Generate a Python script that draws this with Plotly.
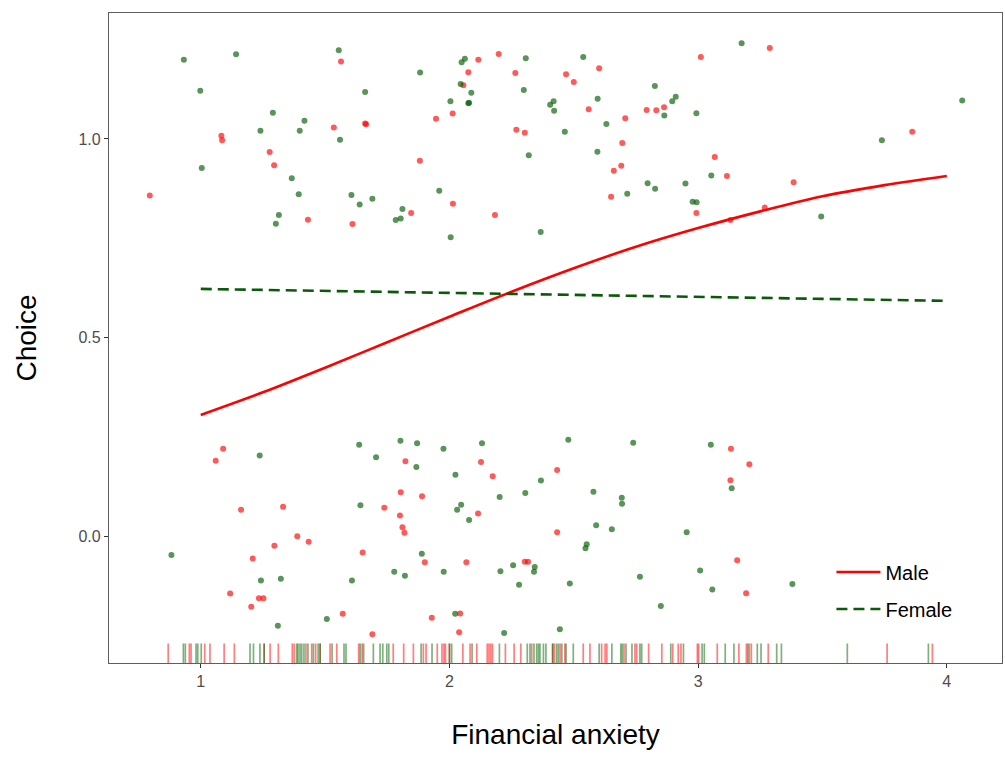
import plotly.graph_objects as go

# ---------------- data ----------------
# jittered points, Male (red)
male_x = [0.795, 1.083, 1.086, 1.277, 1.295, 1.564, 1.535, 1.661, 1.665, 1.431, 1.610, 1.846,
          1.881, 1.946, 2.013, 2.014, 2.056, 2.076, 2.116, 2.198, 2.265, 2.183, 2.269, 2.303,
          3.011, 3.288, 2.469, 2.500, 2.602, 2.560, 2.707, 2.793, 2.832, 2.863, 2.695, 3.067,
          2.691, 2.661, 3.116, 3.384, 2.650, 2.993, 3.268, 3.130, 3.861,
          1.090, 1.060, 1.162, 1.331, 1.388, 1.434, 1.296, 1.209, 1.118, 1.234, 1.252, 1.203,
          1.651, 1.823, 1.804, 1.890, 1.738, 1.801, 1.811, 1.819, 1.901, 2.068, 2.127, 2.174,
          2.115, 2.303, 2.316, 1.571, 1.690, 1.929, 2.043, 2.039, 2.433, 3.132, 3.206, 3.130,
          2.433, 3.157, 3.193]
male_y = [0.858, 1.008, 0.997, 0.967, 0.934, 1.195, 1.029, 1.039, 1.037, 0.797, 0.786, 0.814,
          0.945, 1.051, 1.064, 0.837, 1.135, 1.168, 1.199, 1.214, 1.166, 0.809, 1.023, 1.016,
          1.206, 1.229, 1.163, 1.143, 1.178, 1.075, 1.052, 1.073, 1.072, 1.080, 0.990, 0.955,
          0.933, 0.920, 0.907, 0.891, 0.855, 0.814, 0.828, 0.796, 1.018,
          0.221, 0.191, 0.068, 0.075, 0.001, -0.013, -0.023, -0.055, -0.143, -0.155, -0.155, -0.176,
          -0.040, 0.190, 0.112, 0.102, 0.073, 0.053, 0.024, 0.010, -0.064, -0.064, 0.188, 0.152,
          0.058, -0.063, -0.063, -0.194, -0.245, -0.204, -0.193, -0.240, 0.168, 0.221, 0.182, 0.142,
          0.011, -0.059, -0.142]

# jittered points, Female (green)
female_x = [0.932, 1.142, 0.998, 1.290, 1.240, 1.417, 1.398, 1.555, 1.560, 1.661, 1.004, 1.366,
            1.394, 1.314, 1.302, 1.606, 1.639, 1.690, 1.811, 1.804, 1.784, 1.882, 1.959, 2.004,
            2.005, 2.045, 2.049, 2.062, 2.088, 2.079, 2.076, 2.307, 2.299, 2.319, 2.367, 2.405,
            3.175, 2.538, 2.826, 2.596, 2.419, 2.421, 2.910, 2.896, 2.864, 2.993, 2.464, 2.631,
            2.595, 4.062, 3.739, 3.053, 2.949, 2.797, 2.827, 2.715, 2.978, 2.994, 3.495,
            0.882, 1.237, 1.242, 1.322, 1.310, 1.637, 1.705, 1.803, 1.870, 1.867, 1.976, 2.024,
            2.131, 1.642, 2.047, 2.031, 2.079, 2.202, 2.305, 2.368, 1.889, 1.778, 1.821, 1.977,
            2.205, 2.256, 2.343, 2.340, 2.280, 1.608, 1.507, 2.023, 2.220, 2.478, 2.739, 3.051,
            2.579, 2.693, 2.694, 2.590, 2.653, 2.954, 2.552, 2.547, 3.135, 3.008, 2.484, 2.766,
            3.057, 3.379, 2.850, 2.444]
female_y = [1.199, 1.213, 1.121, 1.066, 1.021, 1.046, 1.021, 1.223, 0.998, 1.118, 0.927, 0.901,
            0.861, 0.809, 0.787, 0.859, 0.835, 0.850, 0.824, 0.800, 0.796, 1.167, 0.870, 1.095,
            0.753, 1.138, 1.193, 1.202, 1.116, 1.091, 1.090, 1.203, 1.123, 0.959, 0.766, 1.086,
            1.241, 1.206, 1.133, 1.101, 1.095, 1.071, 1.106, 1.095, 1.059, 1.065, 1.018, 1.038,
            0.968, 1.097, 0.997, 0.908, 0.888, 0.889, 0.875, 0.862, 0.842, 0.841, 0.805,
            -0.046, 0.204, -0.110, -0.106, -0.224, 0.231, 0.200, 0.241, 0.235, 0.175, 0.221, 0.156,
            0.235, 0.079, 0.080, 0.068, 0.042, 0.100, 0.110, 0.141, -0.043, -0.088, -0.098, -0.088,
            -0.087, -0.072, -0.076, -0.088, -0.121, -0.110, -0.207, -0.194, -0.242, 0.244, 0.236, 0.231,
            0.113, 0.098, 0.083, 0.029, 0.019, 0.011, -0.019, -0.029, 0.122, -0.085, -0.118, -0.101,
            -0.133, -0.119, -0.174, -0.233]

# rug (raw financial anxiety values)
male_rug = [0.869, 0.954, 0.961, 1.016, 1.037, 1.094, 1.135, 1.255, 1.279, 1.312, 1.368, 1.376,
            1.423, 1.446, 1.462, 1.480, 1.520, 1.547, 1.635, 1.649, 1.774, 1.816, 1.855, 1.895,
            1.906, 1.951, 1.970, 1.978, 1.984, 2.000, 2.054, 2.083, 2.110, 2.152, 2.159, 2.166,
            2.173, 2.225, 2.260, 2.287, 2.331, 2.415, 2.422, 2.445, 2.464, 2.538, 2.565, 2.612,
            2.626, 2.633, 2.702, 2.746, 2.753, 2.801, 2.854, 2.898, 2.920, 2.931, 2.997, 3.002,
            3.077, 3.164, 3.194, 3.206, 3.214, 3.282, 3.760, 3.942]
female_rug = [0.930, 0.938, 0.981, 0.988, 1.002, 1.198, 1.212, 1.238, 1.255, 1.386, 1.391, 1.399,
              1.406, 1.415, 1.431, 1.453, 1.472, 1.480, 1.528, 1.576, 1.584, 1.641, 1.655, 1.694,
              1.721, 1.732, 1.748, 1.756, 1.886, 1.930, 2.000, 2.009, 2.091, 2.201, 2.313, 2.324,
              2.340, 2.351, 2.358, 2.364, 2.378, 2.388, 2.415, 2.431, 2.438, 2.452, 2.469, 2.498,
              2.602, 2.653, 2.689, 2.695, 2.710, 2.734, 2.766, 2.773, 2.890, 2.941, 3.016, 3.025,
              3.109, 3.144, 3.200, 3.238, 3.253, 3.316, 3.335, 3.600, 3.926]

# fitted curves
curve_x_male = [1.00, 1.25, 1.50, 1.75, 2.00, 2.25, 2.50, 2.75, 3.00, 3.25, 3.50, 3.75, 4.00]
curve_y_male = [0.306, 0.363, 0.425, 0.489, 0.553, 0.616, 0.675, 0.729, 0.776, 0.818, 0.856, 0.884, 0.907]
curve_x_female = [1.0, 2.0, 3.0, 4.0]
curve_y_female = [0.623, 0.613, 0.603, 0.593]

x_ticks = [1, 2, 3, 4]
y_ticks = [0.0, 0.5, 1.0]
y_tick_labels = ["0.0", "0.5", "1.0"]

RUG_LEN = 0.03  # fraction of panel height

# ---------------- figure ----------------
FONT = "Liberation Sans, Arial, Helvetica, sans-serif"
fig = go.Figure()

fig.add_trace(go.Scatter(x=male_x, y=male_y, mode="markers", showlegend=False,
                         marker=dict(color="red", size=6, opacity=0.65), hoverinfo="skip"))
fig.add_trace(go.Scatter(x=female_x, y=female_y, mode="markers", showlegend=False,
                         marker=dict(color="#005a00", size=6, opacity=0.65), hoverinfo="skip"))


def rug_xy(vals):
    xs, ys = [], []
    for v in vals:
        xs += [v, v, None]
        ys += [0, RUG_LEN, None]
    return xs, ys


rx, ry = rug_xy(male_rug)
fig.add_trace(go.Scatter(x=rx, y=ry, yaxis="y2", mode="lines", showlegend=False,
                         line=dict(color="rgba(255,0,0,0.5)", width=1.7), hoverinfo="skip"))
rx, ry = rug_xy(female_rug)
fig.add_trace(go.Scatter(x=rx, y=ry, yaxis="y2", mode="lines", showlegend=False,
                         line=dict(color="rgba(0,100,0,0.5)", width=1.7), hoverinfo="skip"))

fig.add_trace(go.Scatter(x=curve_x_male, y=curve_y_male, mode="lines", name="Male",
                         legendgroup="m", line=dict(color="#ff0000", width=2.6, shape="spline")))
fig.add_trace(go.Scatter(x=curve_x_female, y=curve_y_female, mode="lines", name="Female",
                         legendgroup="f", line=dict(color="#0a5a0a", width=2.6, dash="11px,6px")))

fig.update_layout(
    width=1005, height=759,
    margin=dict(l=109, r=3, t=13, b=96),
    paper_bgcolor="white", plot_bgcolor="white",
    font=dict(family=FONT),
    xaxis=dict(range=[0.631, 4.222], tickvals=x_ticks, ticktext=[str(t) for t in x_ticks],
               showgrid=False, zeroline=False, showline=True, mirror=True,
               linecolor="#5e5e5e", linewidth=1.2, ticks="outside", ticklen=4, tickwidth=1,
               tickcolor="#333333", tickfont=dict(size=16, color="#4d4d4d"),
               title=dict(text="Financial anxiety", font=dict(size=28, color="black"), standoff=35),
               automargin=False),
    yaxis=dict(range=[-0.3176, 1.3168], tickvals=y_ticks, ticktext=y_tick_labels,
               showgrid=False, zeroline=False, showline=True, mirror=True,
               linecolor="#5e5e5e", linewidth=1.2, ticks="outside", ticklen=4, tickwidth=1,
               tickcolor="#333333", tickfont=dict(size=16, color="#4d4d4d"),
               title=dict(text="Choice", font=dict(size=28, color="black"), standoff=33),
               automargin=False),
    yaxis2=dict(range=[0, 1], overlaying="y", visible=False, fixedrange=True),
    legend=dict(x=0.809, y=0.170, xanchor="left", yanchor="top", bgcolor="rgba(0,0,0,0)",
                font=dict(size=20, color="black"), tracegroupgap=8, itemwidth=44),
    showlegend=True,
)

# remove the default page margin so the 1005x759 figure fills the window exactly
fig.write_html(
    "out.html",
    config={"displayModeBar": False},
    post_script="document.body.style.margin='0';document.body.style.overflow='hidden';"
                "document.documentElement.style.overflow='hidden';",
)
